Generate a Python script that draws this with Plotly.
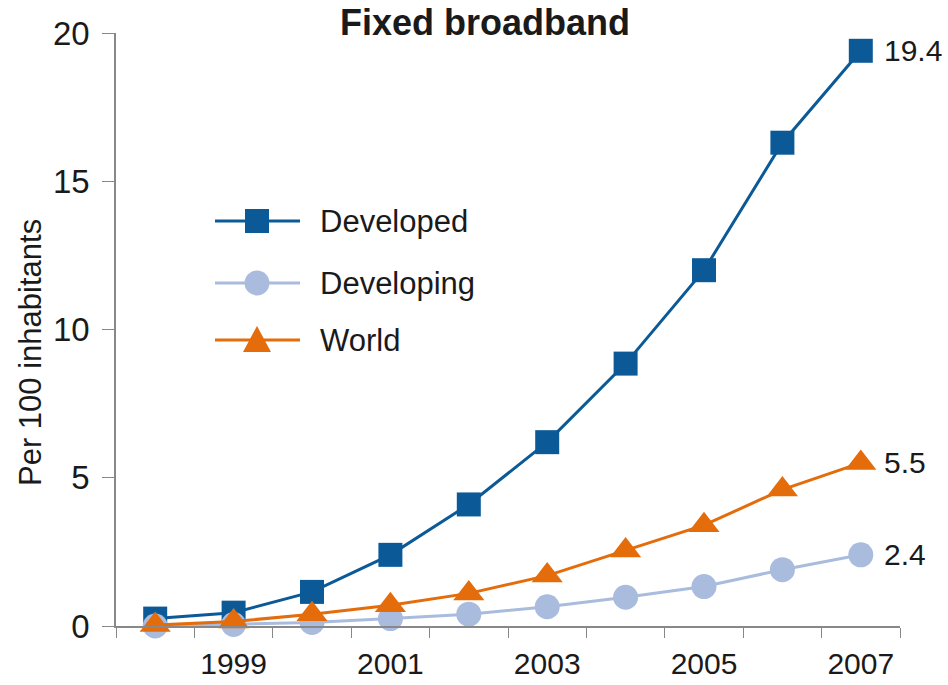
import plotly.graph_objects as go

years = [1998, 1999, 2000, 2001, 2002, 2003, 2004, 2005, 2006, 2007]
developed = [0.25, 0.45, 1.15, 2.4, 4.1, 6.2, 8.85, 12.0, 16.3, 19.4]
developing = [0.0, 0.05, 0.12, 0.25, 0.4, 0.65, 0.97, 1.33, 1.9, 2.4]
world = [0.03, 0.15, 0.4, 0.7, 1.1, 1.7, 2.55, 3.4, 4.6, 5.5]
tick_years = [1999, 2001, 2003, 2005, 2007]
y_ticks = [0, 5, 10, 15, 20]
series_names = ["Developed", "Developing", "World"]

FONT = "Liberation Sans, Arial, sans-serif"
TXT = "#1a1a1a"
C_DEV = "#0B5A97"
C_DEVING = "#A9BCDD"
C_WORLD = "#E46C0A"

# plot area in pixels
L, R, T, B = 116, 900, 33, 626
W, H = 948, 685

def px_x(px):
    return (px - L) / (R - L)

def px_y(py):
    return (B - py) / (B - T)

fig = go.Figure()
series = [
    (series_names[0], developed, C_DEV, "square", 24),
    (series_names[1], developing, C_DEVING, "circle", 25),
    (series_names[2], world, C_WORLD, "triangle-up", 27),
]
for name, vals, col, sym, sz in series:
    fig.add_trace(go.Scatter(
        x=years, y=vals, name=name, mode="lines+markers",
        line=dict(color=col, width=3),
        marker=dict(color=col, symbol=sym, size=sz),
        cliponaxis=False, showlegend=False,
    ))

# end labels
for name, vals, col, sym, sz in series:
    fig.add_annotation(x=years[-1], y=vals[-1], text=f"{vals[-1]:.1f}",
                       xanchor="left", yanchor="middle", xshift=21, showarrow=False,
                       font=dict(family=FONT, size=30, color=TXT))

# custom legend (wide line keys like the original)
leg_y = [221, 283, 340]
x0, x1, xm = 215, 300, 257
for (name, vals, col, sym, sz), py in zip(series, leg_y):
    fig.add_shape(type="line", xref="paper", yref="paper",
                  x0=px_x(x0), x1=px_x(x1), y0=px_y(py), y1=px_y(py),
                  line=dict(color=col, width=3))
    if sym == "square":
        h = 12
        fig.add_shape(type="rect", xref="paper", yref="paper",
                      x0=px_x(xm - h), x1=px_x(xm + h), y0=px_y(py + h), y1=px_y(py - h),
                      fillcolor=col, line=dict(width=0))
    elif sym == "circle":
        h = 12.5
        fig.add_shape(type="circle", xref="paper", yref="paper",
                      x0=px_x(xm - h), x1=px_x(xm + h), y0=px_y(py + h), y1=px_y(py - h),
                      fillcolor=col, line=dict(width=0))
    else:
        h = 14
        path = (f"M {px_x(xm - h)} {px_y(py + 12)} L {px_x(xm + h)} {px_y(py + 12)} "
                f"L {px_x(xm)} {px_y(py - 14)} Z")
        fig.add_shape(type="path", xref="paper", yref="paper", path=path,
                      fillcolor=col, line=dict(width=0))
    fig.add_annotation(xref="paper", yref="paper", x=px_x(318), y=px_y(py),
                       text=name, xanchor="left", yanchor="middle", showarrow=False,
                       font=dict(family=FONT, size=31, color=TXT))

fig.update_layout(
    width=W, height=H,
    margin=dict(l=L, r=W - R, t=T, b=H - B, autoexpand=False),
    paper_bgcolor="white", plot_bgcolor="white",
    font=dict(family=FONT, color=TXT),
    title=dict(text="<b>Fixed broadband</b>", x=485 / W, xanchor="center",
               y=1 - 22 / H, yanchor="middle", xref="container", yref="container",
               font=dict(family=FONT, size=36, color=TXT)),
    showlegend=False,
)
fig.update_xaxes(
    range=[1997.5, 2007.5], tickmode="array", tickvals=tick_years,
    ticktext=[str(y) for y in tick_years],
    ticks="outside", ticklen=10, tickcolor="rgba(0,0,0,0)",
    tickfont=dict(family=FONT, size=30, color=TXT),
    showline=True, linecolor="#888888", linewidth=1.5,
    showgrid=False, zeroline=False, automargin=False,
    minor=dict(tick0=1997.5, dtick=1, ticks="outside", ticklen=10, tickcolor="#888888", showgrid=False),
)
fig.update_yaxes(
    range=[0, 20], tickmode="array", tickvals=y_ticks,
    ticks="outside", ticklen=12, tickcolor="#888888",
    tickfont=dict(family=FONT, size=33, color=TXT), ticklabelstandoff=6,
    showline=True, linecolor="#888888", linewidth=1.5,
    showgrid=False, zeroline=False, automargin=False,
)
fig.add_annotation(xref="paper", yref="paper", x=px_x(30), y=px_y(353),
                   text="Per 100 inhabitants", textangle=-90, showarrow=False,
                   xanchor="center", yanchor="middle",
                   font=dict(family=FONT, size=31, color=TXT))

fig.write_html("out.html", config={"displayModeBar": False},
               post_script="document.body.style.margin='0px';document.body.style.overflow='hidden';")
